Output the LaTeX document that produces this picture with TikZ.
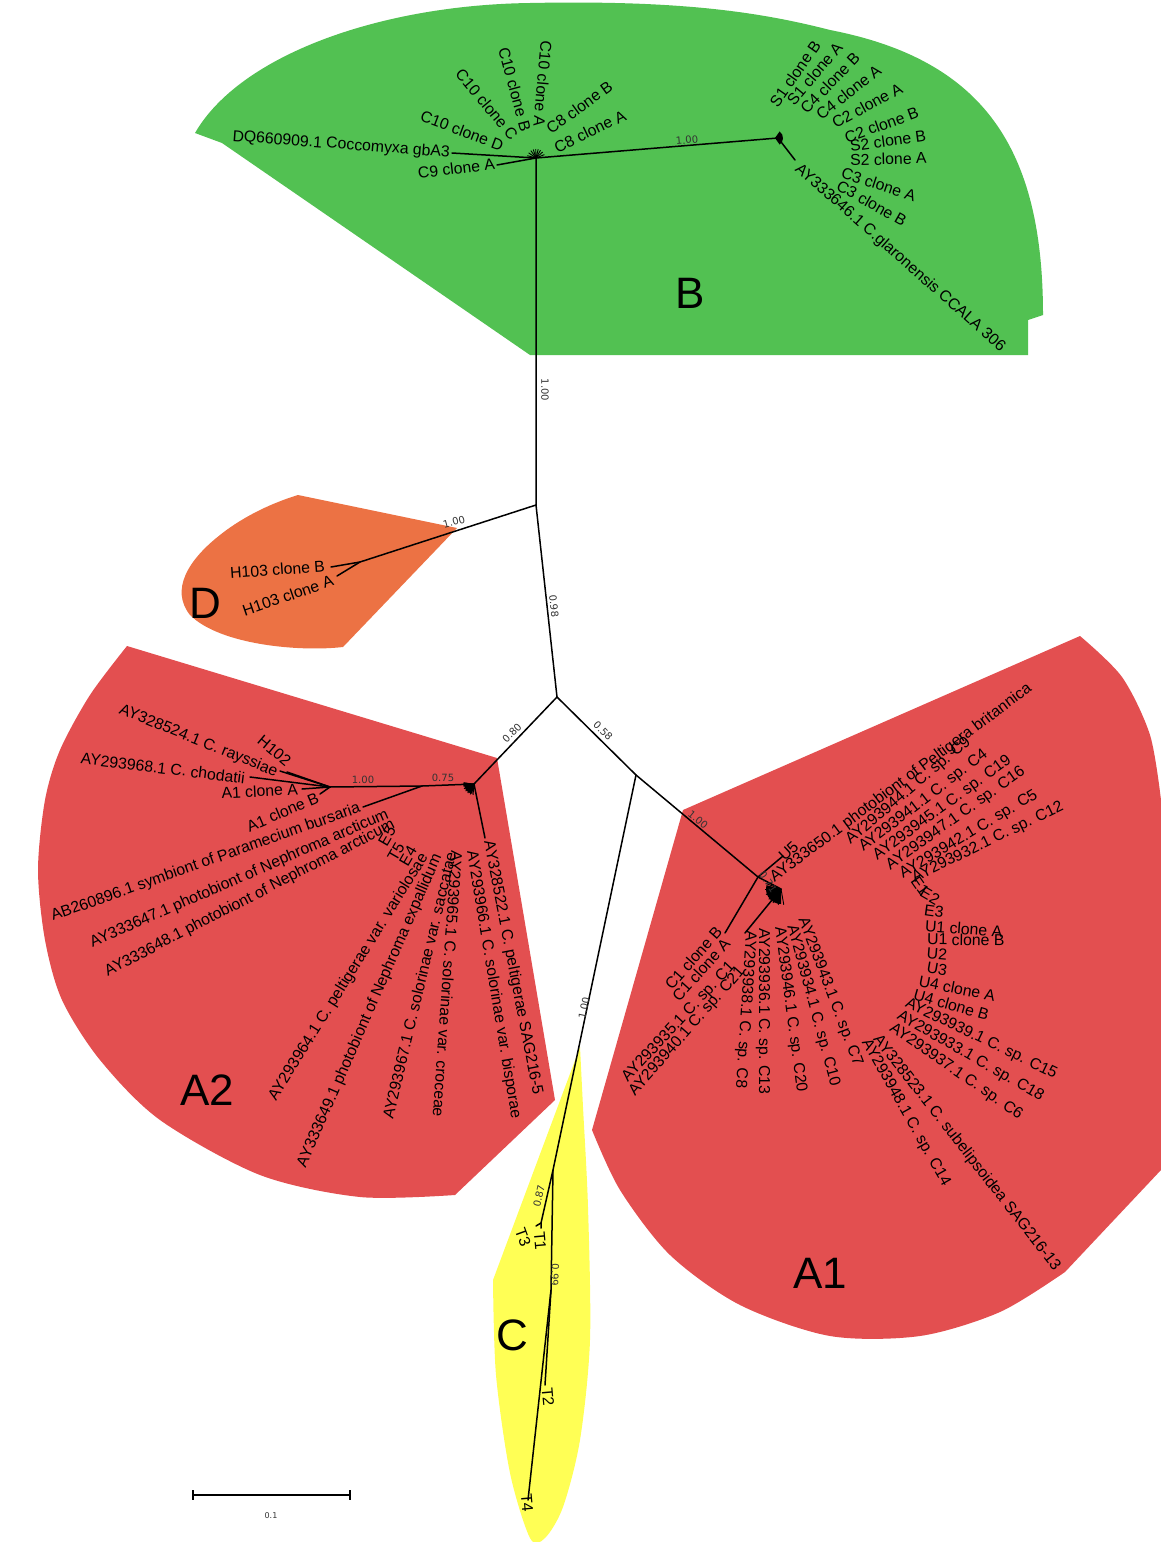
\documentclass[tikz,border=0pt]{standalone}
\usepackage{fontspec}
\setmainfont{Liberation Sans}
\newfontfamily\dejavu{DejaVu Sans}
\definecolor{cgreen}{RGB}{82,193,82}
\definecolor{corange}{RGB}{236,114,68}
\definecolor{cred}{RGB}{227,79,80}
\definecolor{cyel}{RGB}{255,255,85}
\begin{document}
\begin{tikzpicture}[x=1pt,y=-1pt,
  lab/.style={font=\fontsize{15.8}{16}\selectfont,inner sep=0pt},
  le/.style={lab,anchor=east,rotate=#1},
  lw/.style={lab,anchor=west,rotate=#1},
  lc/.style={lab,anchor=center,rotate=#1},
  supp/.style={font=\dejavu\fontsize{10}{10}\selectfont,text=black!80,inner sep=0pt,rotate=#1},
  big/.style={font=\fontsize{44}{44}\selectfont,inner sep=0pt},
  br/.style={line width=1.5pt,line cap=round},
  thinbr/.style={line width=0.9pt}]
\useasboundingbox (0,0) rectangle (1161,1542);

% ---------- coloured clade regions ----------
\fill[cgreen] (530,355) -- (222,143) -- (195,133) .. controls (240,55) and (380,5) .. (530,3)
  .. controls (680,0) and (760,12) .. (830,30) .. controls (985,60) and (1043,150) .. (1043,315)
  -- (1028,320) -- (1028,355) -- cycle;
\fill[corange] (298,495) -- (457,528) -- (343,647) .. controls (300,652) and (220,645) .. (190,615)
  .. controls (170,590) and (188,560) .. (220,535) .. controls (245,515) and (275,502) .. (298,495) -- cycle;
\fill[cred] plot[smooth] coordinates {(455,1195) (360,1197) (260,1175) (160,1120) (100,1060) (62,1000) (45,940) (38,870) (45,800) (60,750) (90,695) (127,646)}
  -- (497,758) -- (555,1100) -- cycle;
\fill[cred] (683,810) -- (1080,636) -- plot[smooth] coordinates {(1080,636) (1122,677) (1150,735) (1161,800)}
  -- (1161,1170) -- (1065,1272) -- plot[smooth] coordinates {(1065,1272) (1000,1312) (920,1336) (830,1336) (740,1305) (670,1255) (620,1190) (592,1130)} -- cycle;
\fill[cyel] (580,1047) -- plot[smooth] coordinates {(493,1280) (496,1375) (510,1473) (530,1538) (545,1538) (563,1507) (580,1440) (590,1340) (588,1207) (583,1107) (580,1047)} -- cycle;

% ---------- internal nodes ----------
\coordinate (N1) at (536,505);
\coordinate (Bn) at (536,158);
\coordinate (Br) at (778,138);
\coordinate (N2) at (557,697);
\coordinate (Dn) at (360,562);
\coordinate (A2n) at (474,784);
\coordinate (n075) at (422,786);
\coordinate (n100) at (330,787);
\coordinate (N3) at (636,775);
\coordinate (A1x) at (758,877);
\coordinate (A1n) at (781,889);
\coordinate (Cn) at (553,1170);
\coordinate (T13) at (541,1223);
\coordinate (T24) at (551,1290);
% tips
\coordinate (tDQ) at (452,153);
\coordinate (tC9) at (497,165);
\coordinate (tAY646) at (795,160);
\coordinate (tH103B) at (331,567);
\coordinate (tH103A) at (337,576);
\coordinate (tRay) at (280,771);
\coordinate (tH102) at (287,772);
\coordinate (tChod) at (250,777);
\coordinate (tA1A) at (302,789);
\coordinate (tA1B) at (320,794);
\coordinate (tAB) at (363,807);
\coordinate (t522) at (485,838);
\coordinate (tU5) at (783,856);
\coordinate (tC1) at (725,933);
\coordinate (tC21) at (745,933);
\coordinate (tT1) at (541,1228);
\coordinate (tT3) at (536,1226);
\coordinate (tT2) at (545,1385);
\coordinate (tT4) at (528,1500);

% ---------- branches ----------
\draw[br] (N1) -- (Bn) -- (Br) -- (tAY646);
\draw[br] (Bn) -- (tDQ);
\draw[br] (Bn) -- (tC9);
\foreach \a in {-165,-145,-125,-108,-92,-76,-60,-42,-22} \draw[thinbr] (Bn) -- +(\a:9);
\fill (775,138) -- +(-55:8) arc[start angle=-55,end angle=55,radius=8] -- cycle;

\draw[br] (N1) -- (Dn) -- (tH103B);
\draw[br] (Dn) -- (tH103A);

\draw[br] (N1) -- (N2) -- (A2n) -- (n075) -- (n100) -- (tRay);
\draw[br] (n100) -- (tH102);
\draw[br] (n100) -- (tChod);
\draw[br] (n100) -- (tA1A);
\draw[br] (n100) -- (tA1B);
\draw[br] (n075) -- (tAB);
\draw[br] (A2n) -- (t522);
\fill (A2n) -- +(100:10) arc[start angle=100,end angle=190,radius=10] -- cycle;
\foreach \a in {95,110,125,140,155,170,185} \draw[thinbr] (A2n) -- +(\a:11);

\draw[br] (N2) -- (N3) -- (A1x) -- (A1n);
\draw[br] (A1x) -- (tU5);
\draw[br] (A1x) -- (tC1);
\draw[br] (A1n) -- (tC21);
\fill (A1n) -- +(90:15) arc[start angle=90,end angle=195,radius=15] -- cycle;
\foreach \a in {80,100,120,140,160,180,200} \draw[thinbr] (A1n) -- +(\a:16);

\draw[br] (N3) -- (Cn) -- (T24) -- (tT4);
\draw[br] (T24) -- (tT2);
\draw[br] (Cn) -- (T13) -- (tT1);
\draw[br] (T13) -- (tT3);

% ---------- support values ----------
\node[supp=4.7] (s1) at (687,140) {1.00};
\node[supp=-90] (s2) at (545,390) {1.00};
\node[supp=15] (s3) at (454,522) {1.00};
\node[supp=-84] (s4) at (554,606) {0.98};
\node[supp=45] (s5) at (512,733) {0.80};
\node[supp=-45] (s6) at (603,731) {0.58};
\node[supp=-39] (s7) at (698,820) {1.00};
\node[supp=78] (s8) at (584,1008) {1.00};
\node[supp=77] (s9) at (539,1196) {0.87};
\node[supp=-92] (s10) at (555,1275) {0.99};
\node[supp=0] (s11) at (363,780) {1.00};
\node[supp=0] (s12) at (443,778) {0.75};
\node[supp=-55] (s13) at (768,882) {0.71};

% ---------- clade B labels ----------
\node[le=-4.2] (lDQ) at (450,153) {DQ660909.1 Coccomyxa gbA3};
\node[le=6.8] (lC9) at (495,164) {C9 clone A};
\node[le=-20.6] (lC10D) at (503,146) {C10 clone D};
\node[le=-50] (lC10C) at (515,138) {C10 clone C};
\node[le=-75] (lC10B) at (526,131) {C10 clone B};
\node[le=-95] (lC10A) at (539,127) {C10 clone A};
\node[lw=36] (lC8B) at (548,130) {C8 clone B};
\node[lw=25.6] (lC8A) at (555,148) {C8 clone A};
\node[lw=55] (lS1B) at (773,105) {S1 clone B};
\node[lw=50] (lS1A) at (790,103) {S1 clone A};
\node[lw=46] (lC4B) at (803,111) {C4 clone B};
\node[lw=38] (lC4A) at (818,116) {C4 clone A};
\node[lw=28.5] (lC2A) at (833,124) {C2 clone A};
\node[lw=19.7] (lC2B) at (845,138) {C2 clone B};
\node[lw=7.8] (lS2B) at (850,146) {S2 clone B};
\node[lw=1.5] (lS2A) at (850,160) {S2 clone A};
\node[lw=-18.4] (lC3A) at (842,172) {C3 clone A};
\node[lw=-29.6] (lC3B) at (838,184) {C3 clone B};
\node[lw=-41.5] (lAY646) at (797,167) {AY333646.1 C.glaronensis CCALA 306};

% ---------- clade D labels ----------
\node[le=4.2] (lH103B) at (325,566) {H103 clone B};
\node[le=19] (lH103A) at (333,580) {H103 clone A};

% ---------- clade A2 labels ----------
\node[le=-22] (lRay) at (277,773) {AY328524.1 C. rayssiae};
\node[le=-40] (lH102) at (289,763) {H102};
\node[le=-6.9] (lChod) at (245,778) {AY293968.1 C. chodatii};
\node[le=3] (lA1A) at (298,789) {A1 clone A};
\node[le=23] (lA1B) at (318,797) {A1 clone B};
\node[le=19.5] (lAB) at (360,808) {AB260896.1 symbiont of Paramecium bursaria};
\node[le=23.6] (lNe47) at (388,814) {AY333647.1 photobiont of Nephroma arcticum};
\node[le=27.3] (lNe48) at (394,824) {AY333648.1 photobiont of Nephroma arcticum};
\node[lc=60] (lE5) at (387,836) {E5};
\node[lc=60] (lT5) at (396,852) {T5};
\node[lc=60] (lE4) at (408,856) {E4};
\node[le=58] (l964) at (425,855) {AY293964.1 C. peltigerae var. variolosae};
\node[le=66.4] (l649) at (438,855) {AY333649.1 photobiont of Nephroma expallidum};
\node[le=76.6] (l967) at (451,852) {AY293967.1 C. solorinae var. saccatae};
\node[lw=-94] (l965) at (457,851) {AY293965.1 C. solorinae var. croceae};
\node[lw=-80.5] (l966) at (471,851) {AY293966.1 C. solorinae var. bisporae};
\node[lw=-79] (l522) at (488,841) {AY328522.1 C. peltigerae SAG216-5};

% ---------- clade A1 labels ----------
\node[le=48.7] (lC1B) at (719,929) {C1 clone B};
\node[le=48] (lC1A) at (727,941) {C1 clone A};
\node[lw=47] (l935) at (625,1080) {AY293935.1 C. sp. C1};
\node[lw=48.5] (l940) at (632,1094) {AY293940.1 C. sp. C21};
\node[lw=-93.7] (l938) at (750,931) {AY293938.1 C. sp. C8};
\node[lw=-90] (l936) at (763,928) {AY293936.1 C. sp. C13};
\node[lw=-82.4] (l946) at (779,927) {AY293946.1 C. sp. C20};
\node[lw=-74.8] (l934) at (791,925) {AY293934.1 C. sp. C10};
\node[lw=-69.3] (l943) at (802,918) {AY293943.1 C. sp. C7};
\node[lw=43] (lU5) at (781,858) {U5};
\node[lw=36.6] (l650) at (772,879) {AY333650.1 photobiont of Peltigera britannica};
\node[lw=40] (l944) at (848,842) {AY293944.1 C. sp. C9};
\node[lw=37.5] (l941) at (861,849) {AY293941.1 C. sp. C4};
\node[lw=36] (l945) at (875,857) {AY293945.1 C. sp. C19};
\node[lw=35.5] (l947) at (888,867) {AY293947.1 C. sp. C16};
\node[lw=30.8] (l942) at (901,875) {AY293942.1 C. sp. C5};
\node[lw=26] (l932) at (913,879) {AY293932.1 C. sp. C12};
\node[lc=-55] (lE1) at (920,886) {E1};
\node[lc=-30] (lE2) at (930,896) {E2};
\node[lc=-8] (lE3) at (934,911) {E3};
\node[lw=-4] (lU1A) at (925,926) {U1 clone A};
\node[lw=-1] (lU1B) at (927,939) {U1 clone B};
\node[lc=-5] (lU2) at (937,954) {U2};
\node[lc=-10] (lU3) at (937,969) {U3};
\node[lw=-11] (lU4A) at (919,981) {U4 clone A};
\node[lw=-16] (lU4B) at (914,994) {U4 clone B};
\node[lw=-25.7] (l939) at (906,1003) {AY293939.1 C. sp. C15};
\node[lw=-29.9] (l933) at (898,1015) {AY293933.1 C. sp. C18};
\node[lw=-34.6] (l937) at (891,1027) {AY293937.1 C. sp. C6};
\node[lw=-52] (l523) at (876,1037) {AY328523.1 C. subelipsoidea SAG216-13};
\node[lw=-60.8] (l948) at (865,1040) {AY293948.1 C. sp. C14};

% ---------- clade C labels ----------
\node[lc=-85] (lT1) at (540,1241) {T1};
\node[lc=-70] (lT3) at (523,1237) {T3};
\node[lc=-85] (lT2) at (548,1397) {T2};
\node[lc=-85] (lT4) at (527,1503) {T4};

% ---------- clade letters ----------
\node[big] (cB) at (690,293) {B};
\node[big] (cD) at (205,603) {D};
\node[big] (cA2) at (207,1090) {A2};
\node[big] (cA1) at (820,1273) {A1};
\node[big] (cC) at (512,1335) {C};

% ---------- scale bar ----------
\coordinate (sb1) at (193,1495);
\coordinate (sb2) at (350,1495);
\draw[line width=1.3pt] (sb1) -- (sb2);
\draw[line width=1.3pt] (193,1490) -- (193,1500);
\draw[line width=1.3pt] (350,1490) -- (350,1500);
\node[font=\dejavu\fontsize{8}{8}\selectfont,text=black!80] (sbl) at (271,1516) {0.1};
\end{tikzpicture}
\end{document}
